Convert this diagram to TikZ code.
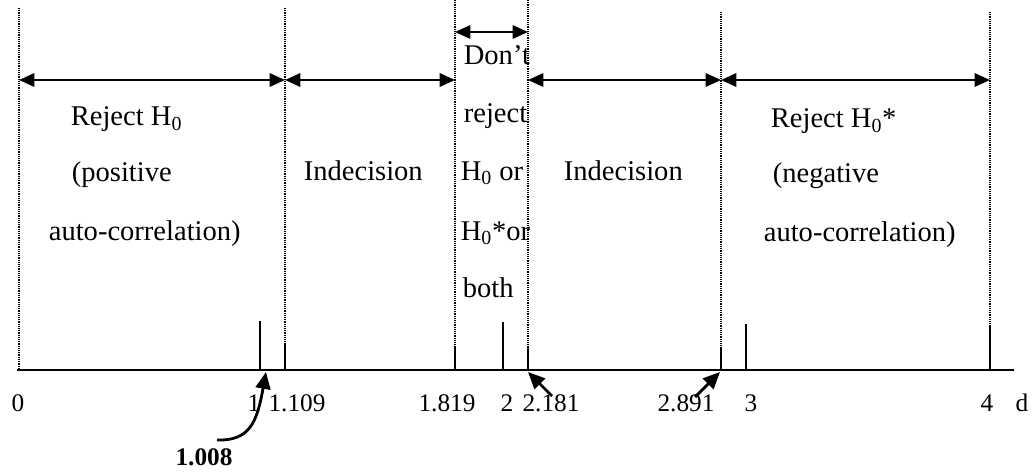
\documentclass[tikz,border=0pt]{standalone}
\usepackage{fontspec}
\setmainfont{Liberation Serif}
\usetikzlibrary{arrows.meta, calc}
\tikzset{
  every picture/.style={x=0.025cm, y=-0.025cm, line width=1.2pt},
  txt/.style={font=\fontsize{20.3}{24}\selectfont, anchor=base west, inner sep=0pt},
  num/.style={font=\fontsize{18}{22}\selectfont, anchor=base, inner sep=0pt},
  bound/.style={line width=1pt, dash pattern=on 0.7pt off 0.6pt},
  tick/.style={line width=1.2pt},
  axis/.style={line width=1.8pt},
  span/.style={{Triangle[length=11pt, width=9.5pt]}-{Triangle[length=11pt, width=9.5pt]}, line width=1.8pt},
  pointer/.style={-{Triangle[length=12pt, width=10.5pt]}, line width=2pt},
}

\begin{document}
\begin{tikzpicture}
  \useasboundingbox (0,0) rectangle (1036,472);
  % boundaries and axis
  \coordinate (axl) at (17,370);
  \coordinate (axr) at (1014,370);
  \coordinate (b0) at (19,8);
  \coordinate (b1) at (285,8);
  \coordinate (b2) at (455,0);
  \coordinate (b3) at (528,0);
  \coordinate (b4) at (721,12);
  \coordinate (b5) at (990,12);
  \coordinate (k1) at (260,321);
  \coordinate (k109) at (285,345);
  \coordinate (k1819) at (455,346);
  \coordinate (k2) at (503,322);
  \coordinate (k2181) at (528,346);
  \coordinate (k2891) at (721,348);
  \coordinate (k3) at (746,324);
  \coordinate (k4) at (990,325);
  \coordinate (hi) at (0,32);
  \coordinate (mid) at (0,80);

  \draw[bound] (b0) -- (b0 |- axl);
  \draw[bound] (b1) -- (k109);
  \draw[bound] (b2) -- (k1819);
  \draw[bound] (b3) -- (k2181);
  \draw[bound] (b4) -- (k2891);
  \draw[bound] (b5) -- (k4);

  \draw[axis] (axl) -- (axr);
  \foreach \k in {k1, k109, k1819, k2, k2181, k2891, k3, k4}
    \draw[tick] (\k) -- (\k |- axl);

  \draw[span] (b0 |- mid) -- (b1 |- mid);
  \draw[span] (b1 |- mid) -- (b2 |- mid);
  \draw[span] (b2 |- hi) -- (b3 |- hi);
  \draw[span] (b3 |- mid) -- (b4 |- mid);
  \draw[span] (b4 |- mid) -- (b5 |- mid);

  % regions
  \node[txt] (rej1) at (70,126) {Reject H\textsubscript{0}};
  \node[txt] (pos) at (71,181) {(positive};
  \node[txt] (acl) at (48,240) {auto-correlation)};
  \node[txt] (ind1) at (303,180) {Indecision};
  \node[txt] (dont) at (463,65) {Don’t};
  \node[txt] (rjt) at (463,123) {reject};
  \node[txt] (hor) at (460,180) {H\textsubscript{0} or};
  \node[txt] (hsor) at (460,240) {H\textsubscript{0}*or};
  \node[txt] (both) at (462,297) {both};
  \node[txt] (ind2) at (563,180) {Indecision};
  \node[txt] (rej2) at (770,128) {Reject H\textsubscript{0}*};
  \node[txt] (neg) at (772,182) {(negative};
  \node[txt] (acr) at (763,241) {auto-correlation)};

  % axis labels
  \node[num] (v0) at (18,411) {0};
  \node[num] (v1) at (254,411) {1};
  \node[num] (v109) at (297,411) {1.109};
  \node[num] (v1819) at (447,411) {1.819};
  \node[num] (v2) at (507,411) {2};
  \node[num] (v2181) at (551,411) {2.181};
  \node[num] (v2891) at (686,411) {2.891};
  \node[num] (v3) at (751,411) {3};
  \node[num] (v4) at (987,411) {4};
  \node[num] (vd) at (1022,411) {d};
  \node[num, font=\fontsize{18}{22}\selectfont\bfseries] (v1008) at (204,465) {1.008};

  \coordinate (s1008) at (217,440);
  \coordinate (p1008) at (266,372);
  \coordinate (s2181) at (552,396);
  \coordinate (p2181) at (528,372);
  \coordinate (s2891) at (695,397);
  \coordinate (p2891) at (720,372);
  \draw[pointer] (s1008) .. controls (250,441) and (257,422) .. (p1008);
  \draw[pointer] (s2181) -- (p2181);
  \draw[pointer] (s2891) -- (p2891);
\end{tikzpicture}
\end{document}
